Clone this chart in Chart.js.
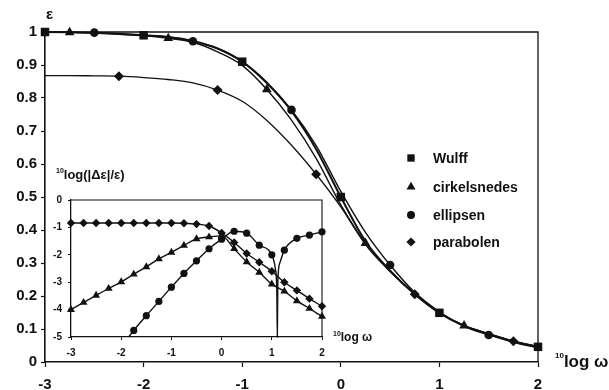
<!DOCTYPE html>
<html>
<head>
<meta charset="utf-8">
<script src="https://cdn.jsdelivr.net/npm/chart.js@4.4.0/dist/chart.umd.min.js"></script>
<style>
  html, body { margin: 0; padding: 0; background: #fff; }
  #wrap { position: relative; width: 609px; height: 390px; }
  #main { position: absolute; left: 0; top: 0; }
  #inset { position: absolute; left: 0; top: 160px; }
</style>
</head>
<body>
<div id="wrap">
  <canvas id="main" width="609" height="390"></canvas>
  <canvas id="inset" width="400" height="210"></canvas>
</div>
<script>
// ======================================
// DATA
// ======================================
// 10log(omega) grid, shared by every curve
const logOmega = [-3, -2.75, -2.5, -2.25, -2, -1.75, -1.5, -1.25, -1, -0.75, -0.5,
                  -0.25, 0, 0.25, 0.5, 0.75, 1, 1.25, 1.5, 1.75, 2];

// epsilon for each construction
const epsWulff   = [1.0, 0.999, 0.998, 0.995, 0.99, 0.985, 0.973, 0.95, 0.91, 0.845, 0.76,
                    0.645, 0.5, 0.366, 0.277, 0.206, 0.149, 0.11, 0.085, 0.063, 0.046];
const epsCirkel  = [1.0, 0.999, 0.997, 0.993, 0.989, 0.981, 0.969, 0.94, 0.899, 0.826, 0.733,
                    0.617, 0.476, 0.36, 0.275, 0.205, 0.149, 0.11, 0.085, 0.063, 0.046];
const epsEllips  = [1.0, 0.999, 0.998, 0.995, 0.99, 0.985, 0.972, 0.95, 0.911, 0.848, 0.764,
                    0.656, 0.517, 0.393, 0.294, 0.211, 0.152, 0.108, 0.082, 0.06, 0.043];
const epsParab   = [0.868, 0.868, 0.867, 0.866, 0.862, 0.856, 0.846, 0.824, 0.79, 0.732, 0.657,
                    0.569, 0.47, 0.356, 0.274, 0.205, 0.149, 0.11, 0.085, 0.063, 0.046];

// 10log(|d eps| / eps) relative to Wulff (inset)
const devCirkel  = [-4.0, -3.74, -3.48, -3.23, -2.99, -2.71, -2.44, -2.15, -1.91, -1.66, -1.42,
                    -1.35, -1.31, -1.78, -2.26, -2.64, -3.07, -3.33, -3.68, -3.96, -4.25];
const devEllips  = [null, null, null, null, null, -4.76, -4.22, -3.7, -3.18, -2.68, -2.22,
                    -1.78, -1.43, -1.14, -1.21, -1.65, -2.0, -1.83, -1.4, -1.28, -1.16];
const devParab   = [-0.84, -0.84, -0.84, -0.84, -0.84, -0.84, -0.84, -0.84, -0.84, -0.85, -0.88,
                    -0.95, -1.2, -1.55, -1.95, -2.27, -2.6, -3.0, -3.3, -3.6, -3.88];
// where the ellipsen deviation leaves the inset frame (bottom edge and the sign change)
const ellipsEdgeX = [-1.85, 1.07, 1.1, 1.11, 1.12, 1.16];
const ellipsEdgeY = [-5, -2.5, -3.3, -5, -3.0, -2.3];

const seriesNames = ["Wulff", "cirkelsnedes", "ellipsen", "parabolen"];

// ======================================
// HELPERS
// ======================================
const FONT = "'Liberation Sans', Arial, Helvetica, sans-serif";
const INK = "#111";

function toPoints(xs, ys) {
    return xs.map((x, i) => ({ x: x, y: ys[i] })).filter(p => p.y !== null);
}

// marker only where (x - offset) is a whole step
function markerAt(step, offset) {
    return x => {
        const k = (x - offset) / step;
        return Math.abs(k - Math.round(k)) < 1e-6;
    };
}

function drawMarker(ctx, style, x, y, r) {
    ctx.beginPath();
    if (style === "rect") {
        const s = r * Math.SQRT1_2;
        ctx.rect(x - s, y - s, 2 * s, 2 * s);
    } else if (style === "triangle") {
        ctx.moveTo(x, y - r);
        ctx.lineTo(x + r * 0.866, y + r * 0.5);
        ctx.lineTo(x - r * 0.866, y + r * 0.5);
        ctx.closePath();
    } else if (style === "rectRot") {
        ctx.moveTo(x, y - r);
        ctx.lineTo(x + r, y);
        ctx.lineTo(x, y + r);
        ctx.lineTo(x - r, y);
        ctx.closePath();
    } else {
        ctx.arc(x, y, r, 0, Math.PI * 2);
    }
    ctx.fill();
}

function lineSet(label, points, style, radius, width, isMarked) {
    return {
        label: label,
        data: points,
        borderColor: INK,
        backgroundColor: INK,
        borderWidth: width,
        pointStyle: style,
        pointBorderWidth: 0,
        pointRadius: ctx => (ctx.raw && isMarked(ctx.raw.x)) ? radius : 0,
        pointHoverRadius: 0,
        cubicInterpolationMode: "monotone",
        clip: false,
    };
}

// top and right edges of the plot box
const framePlugin = {
    id: "frame",
    afterDraw(chart, args, opts) {
        const { ctx, chartArea: a } = chart;
        ctx.save();
        ctx.strokeStyle = INK;
        ctx.lineWidth = opts.width || 1.2;
        ctx.beginPath();
        ctx.moveTo(a.left, a.top);
        ctx.lineTo(a.right, a.top);
        ctx.lineTo(a.right, a.bottom);
        ctx.stroke();
        ctx.restore();
    }
};

function labelWithPrefix(ctx, x, y, big, small, bigSize, smallSize, rise) {
    ctx.font = "bold " + smallSize + "px " + FONT;
    ctx.fillText(small, x, y - rise);
    const w = ctx.measureText(small).width;
    ctx.font = "bold " + bigSize + "px " + FONT;
    ctx.fillText(big, x + w, y);
}

// ======================================
// MAIN CHART
// ======================================
const mainStyles = ["rect", "triangle", "circle", "rectRot"];
const mainRadius = [6, 5.6, 4.3, 5];

const mainText = {
    id: "mainText",
    afterDraw(chart) {
        const ctx = chart.ctx;
        ctx.save();
        ctx.fillStyle = INK;
        ctx.textBaseline = "alphabetic";
        ctx.font = "bold 15px " + FONT;
        ctx.fillText("ε", 46, 19);
        labelWithPrefix(ctx, 555, 367, "log ω", "10", 17, 8, 9);

        // legend
        const rows = [158, 187, 215, 242];
        const legR = [5.2, 5.2, 4, 4.6];
        ctx.textBaseline = "middle";
        ctx.font = "bold 14px " + FONT;
        seriesNames.forEach((name, i) => {
            drawMarker(ctx, mainStyles[i], 411, rows[i], legR[i]);
            ctx.fillText(name, 433, rows[i] + 1);
        });
        ctx.restore();
    }
};

const axisFont = { family: FONT, size: 15, weight: "bold" };

new Chart(document.getElementById("main"), {
    type: "line",
    data: {
        datasets: [
            lineSet(seriesNames[0], toPoints(logOmega, epsWulff), mainStyles[0], mainRadius[0], 2, markerAt(1, 0)),
            lineSet(seriesNames[1], toPoints(logOmega, epsCirkel), mainStyles[1], mainRadius[1], 1.4, markerAt(1, 0.25)),
            lineSet(seriesNames[2], toPoints(logOmega, epsEllips), mainStyles[2], mainRadius[2], 1.4, markerAt(1, 0.5)),
            lineSet(seriesNames[3], toPoints(logOmega, epsParab), mainStyles[3], mainRadius[3], 1.3, markerAt(1, 0.75)),
        ]
    },
    options: {
        responsive: false,
        animation: false,
        events: [],
        layout: { padding: { top: 32, right: 71, left: 0, bottom: 0 } },
        plugins: { legend: { display: false }, tooltip: { enabled: false }, frame: { width: 1.3 } },
        scales: {
            x: {
                type: "linear", min: -3, max: 2,
                ticks: { stepSize: 1, autoSkip: false, maxRotation: 0, padding: 9,
                         color: INK, font: axisFont, callback: v => String(v) },
                grid: { drawOnChartArea: false, tickLength: 5, color: INK, tickWidth: 1.2 },
                border: { color: INK, width: 1.6 },
                afterFit: s => { s.height = 28; }
            },
            y: {
                min: 0, max: 1,
                ticks: { stepSize: 0.1, padding: 4, color: INK, font: axisFont,
                         callback: v => String(Math.round(v * 10) / 10) },
                grid: { drawOnChartArea: false, tickLength: 4, color: INK, tickWidth: 1.2 },
                border: { color: INK, width: 1.6 },
                afterFit: s => { s.width = 45; }
            }
        }
    },
    plugins: [framePlugin, mainText]
});

// ======================================
// INSET: deviation from Wulff
// ======================================
const insetStyles = ["triangle", "circle", "rectRot"];
const insetRadius = [4.6, 3.6, 4.2];

const ellipsPoints = toPoints(logOmega, devEllips)
    .concat(toPoints(ellipsEdgeX, ellipsEdgeY))
    .sort((a, b) => a.x - b.x);

const insetText = {
    id: "insetText",
    afterDraw(chart) {
        const ctx = chart.ctx;
        ctx.save();
        ctx.fillStyle = INK;
        ctx.textBaseline = "alphabetic";
        labelWithPrefix(ctx, 56, 19, "log(|Δε|/ε)", "10", 13, 7, 6);
        labelWithPrefix(ctx, 333, 181, "log ω", "10", 12, 7, 5);
        ctx.restore();
    }
};

const insetFont = { family: FONT, size: 10, weight: "bold" };

new Chart(document.getElementById("inset"), {
    type: "line",
    data: {
        datasets: [
            lineSet(seriesNames[1], toPoints(logOmega, devCirkel), insetStyles[0], insetRadius[0], 1.4, markerAt(0.25, 0)),
            lineSet(seriesNames[2], ellipsPoints, insetStyles[1], insetRadius[1], 1.4, markerAt(0.25, 0)),
            lineSet(seriesNames[3], toPoints(logOmega, devParab), insetStyles[2], insetRadius[2], 1.4, markerAt(0.25, 0)),
        ]
    },
    options: {
        responsive: false,
        animation: false,
        events: [],
        layout: { padding: { top: 40, right: 78, left: 0, bottom: 0 } },
        plugins: { legend: { display: false }, tooltip: { enabled: false }, frame: { width: 1.1 } },
        scales: {
            x: {
                type: "linear", min: -3, max: 2,
                ticks: { stepSize: 1, autoSkip: false, maxRotation: 0, padding: 7,
                         color: INK, font: insetFont, callback: v => String(v) },
                grid: { drawOnChartArea: false, tickLength: 3, color: INK },
                border: { color: INK, width: 1.3 },
                afterFit: s => { s.height = 33; }
            },
            y: {
                min: -5, max: 0,
                ticks: { stepSize: 1, padding: 6, color: INK, font: insetFont,
                         callback: v => String(v) },
                grid: { drawOnChartArea: false, tickLength: 3, color: INK },
                border: { color: INK, width: 1.3 },
                afterFit: s => { s.width = 71; }
            }
        }
    },
    plugins: [framePlugin, insetText]
});
</script>
</body>
</html>
